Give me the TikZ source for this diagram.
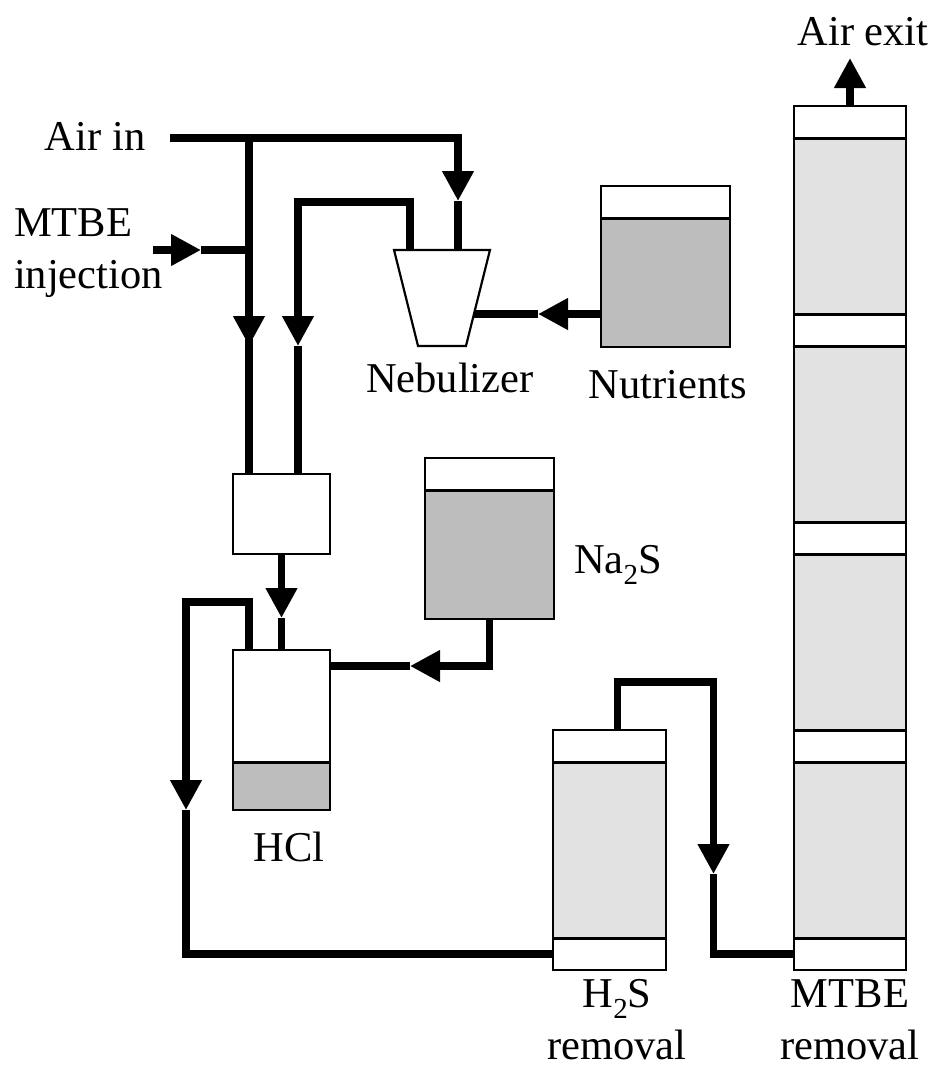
\documentclass[tikz,border=0pt]{standalone}
\usepackage{fontspec}
\setmainfont{Liberation Serif}
\usepackage{tikz}
\usetikzlibrary{arrows.meta}
\usetikzlibrary{shapes.geometric}
\usetikzlibrary{backgrounds}
\newcommand{\subtwo}{\raisebox{-0.26em}{\fontsize{29}{29}\selectfont 2}}
\definecolor{liquidgray}{HTML}{BDBDBD}
\definecolor{packgray}{HTML}{E2E2E2}
\tikzset{
  pipe/.style={line width=7.3pt},
  lbl/.style={inner sep=0pt,outer sep=0pt,font=\fontsize{42.5}{52}\selectfont},
  vessel/.style={draw,line width=2.2pt,inner sep=0pt,outer sep=0pt},
  headbox/.style={vessel,fill=white},
  bedbox/.style={vessel,fill=packgray},
  tankbox/.style={vessel,fill=liquidgray},
}
\begin{document}
\begin{tikzpicture}[x=1pt,y=-1pt,>={Triangle[length=30pt,width=30pt]}]
\useasboundingbox (0,0) rectangle (936,1069);
% tall column
\foreach \n/\y in {1/122,2/330,3/538,4/746,5/954}
  \node[headbox,minimum width=112pt,minimum height=32pt] (colhead\n) at (850,\y) {};
\foreach \n/\y in {1/226,2/434,3/642,4/850}
  \node[bedbox,minimum width=112pt,minimum height=176pt] (colbed\n) at (850,\y) {};
% small column
\node[headbox,minimum width=113pt,minimum height=32pt] (h2stop) at (609.5,746) {};
\node[bedbox,minimum width=113pt,minimum height=176pt] (h2sbed) at (609.5,850) {};
\node[headbox,minimum width=113pt,minimum height=32pt] (h2slow) at (609.5,954) {};
% tanks
\node[headbox,minimum width=129pt,minimum height=32pt] (nuthead) at (665.5,202) {};
\node[tankbox,minimum width=129pt,minimum height=129pt] (nutbed) at (665.5,282.5) {};
\node[headbox,minimum width=129pt,minimum height=32pt] (nahead) at (489.5,474) {};
\node[tankbox,minimum width=129pt,minimum height=129pt] (nabed) at (489.5,554.5) {};
\node[headbox,minimum width=97pt,minimum height=112pt] (hclhead) at (281.5,706) {};
\node[tankbox,minimum width=97pt,minimum height=48pt] (hclbed) at (281.5,786) {};
\node[headbox,minimum width=97pt,minimum height=80pt] (mixer) at (281.5,514) {};
\node[headbox,inner sep=4pt,trapezium,shape border rotate=180,trapezium stretches=true,
  trapezium left angle=63.4,trapezium right angle=63.4,
  minimum width=96pt,minimum height=96pt] (neb) at (442,298) {};
% divider lines
\foreach \n in {1,2,3,4} {
  \draw[line width=3pt] (colbed\n.north west) -- (colbed\n.north east);
  \draw[line width=3pt] (colbed\n.south west) -- (colbed\n.south east);
}
\draw[line width=3pt] (h2sbed.north west) -- (h2sbed.north east);
\draw[line width=3pt] (h2sbed.south west) -- (h2sbed.south east);
\draw[line width=3pt] (nutbed.north west) -- (nutbed.north east);
\draw[line width=3pt] (nabed.north west) -- (nabed.north east);
\draw[line width=3pt] (hclbed.north west) -- (hclbed.north east);
% labels
\node[lbl,anchor=base west] (airin) at (45,150) {Air in};
\node[lbl,anchor=base west,align=left] (mtbein) at (14,288) {MTBE\\injection};
\node[lbl,anchor=base west] (neblbl) at (366,392) {Nebulizer};
\node[lbl,anchor=base] (nutlbl) at (668,398) {Nutrients};
\node[lbl,anchor=base west] (nalbl) at (574,573) {Na\subtwo S};
\node[lbl,anchor=base] (hcllbl) at (289,861) {HCl};
\node[lbl,anchor=base,align=center,text depth=0pt] (h2slbl) at (617,1059) {H\subtwo S\\removal};
\node[lbl,anchor=base,align=center,text depth=0pt] (mtbelbl) at (850,1059) {MTBE\\removal};
\node[lbl,anchor=base] (exitlbl) at (863,45) {Air exit};
% pipe points
\coordinate (airstart) at (170,138);
\coordinate (airdrop) at (249,138);
\coordinate (airtip) at (458,201);
\coordinate (airdowntip) at (249,346);
\coordinate (airresume) at (249,339);
\coordinate (mtbestart) at (153,250);
\coordinate (mtbetip) at (201,250);
\coordinate (nebout) at (410,202);
\coordinate (rettip) at (298,346);
\coordinate (nuttip) at (538,314);
\coordinate (mixtip) at (281.5,618);
\coordinate (natip) at (410,666);
\coordinate (recyc) at (249,602);
\coordinate (recyctip) at (186,810);
\coordinate (h2sout) at (617.5,682);
\coordinate (h2stip) at (713.5,874);
\coordinate (exittip) at (850,58);
% pipes
\draw[pipe,->] (airstart) -| (airtip);
\draw[pipe] (airtip) -- (neb.north -| airtip);
\draw[pipe,->] (airdrop) -- (airdowntip);
\draw[pipe] (airresume) -- (mixer.north -| airresume);
\draw[pipe,->] (mtbestart) -- (mtbetip);
\draw[pipe] (mtbetip) -- (mtbetip -| airdrop);
\draw[pipe,->] (neb.north -| nebout) -- (nebout) -| (rettip);
\draw[pipe] (rettip) -- (mixer.north -| rettip);
\draw[pipe,->] (nutbed.west |- nuttip) -- (nuttip);
\begin{scope}[on background layer]
\draw[pipe] (nuttip) -- (neb.center |- nuttip);
\end{scope}
\draw[pipe,->] (mixer.south) -- (mixtip);
\draw[pipe] (mixtip) -- (hclhead.north);
\draw[pipe,->] (nabed.south) |- (natip);
\draw[pipe] (natip) -- (hclhead.east |- natip);
\draw[pipe,->] (hclhead.north -| recyc) -- (recyc) -| (recyctip);
\draw[pipe] (recyctip) |- (h2slow.west);
\draw[pipe,->] (h2stop.north -| h2sout) -- (h2sout) -| (h2stip);
\draw[pipe] (h2stip) |- (colhead5.west);
\draw[pipe,->] (colhead1.north) -- (exittip);
\end{tikzpicture}
\end{document}
